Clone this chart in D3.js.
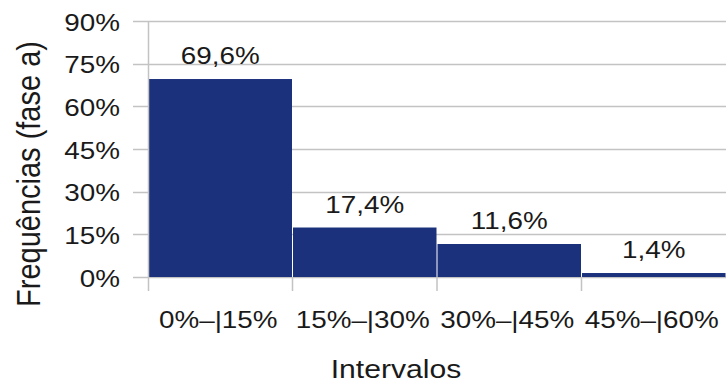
<!DOCTYPE html>
<html>
<head>
<meta charset="utf-8">
<script src="https://cdnjs.cloudflare.com/ajax/libs/d3/7.8.5/d3.min.js"></script>
<style>
  body { margin: 0; background: #fff; }
  text { font-family: "Liberation Sans", Arial, sans-serif; fill: #1a1a1a; }
</style>
</head>
<body>
<div id="chart"></div>
<script>
// histogram data
const categories = ["0%–|15%", "15%–|30%", "30%–|45%", "45%–|60%"];
const values = [69.6, 17.4, 11.6, 1.4];
const valueLabels = ["69,6%", "17,4%", "11,6%", "1,4%"];
const yTicks = [0, 15, 30, 45, 60, 75, 90];

const width = 726, height = 385;
const sx = 1.16; // text is drawn a little wide in the reference
const barColor = '#1c317c',
    gridColor = '#c3c3c3';

const svg = d3.select('#chart').append('svg')
    .attr('width', width)
    .attr('height', height);

const x = d3.scaleBand()
    .domain(categories)
    .range([148, 726])
    .padding(0);

const y = d3.scaleLinear()
    .domain([0, 90])
    .range([277, 21]);

// horizontal grid lines + left ticks
svg.append('g').selectAll('line')
    .data(yTicks)
    .enter().append('line')
    .attr('x1', 133)
    .attr('x2', width)
    .attr('y1', d => Math.round(y(d)) + 0.5)
    .attr('y2', d => Math.round(y(d)) + 0.5)
    .attr('stroke', gridColor)
    .attr('stroke-width', 1.5);

// y labels
svg.append('g').selectAll('text')
    .data(yTicks)
    .enter().append('text')
    .attr('transform', d => 'translate(120,' + (y(d) + 9.5) + ') scale(' + sx + ',1)')
    .attr('text-anchor', 'end')
    .attr('font-size', 24)
    .text(d => d + '%');

// bars
svg.append('g').selectAll('rect')
    .data(values)
    .enter().append('rect')
    .attr('x', (d, i) => x(categories[i]) + 0.5)
    .attr('width', x.bandwidth() - 1)
    .attr('y', d => y(d))
    .attr('height', d => y(0) - y(d))
    .attr('fill', barColor);

// left axis line and bottom ticks
svg.append('line')
    .attr('x1', 148.5).attr('x2', 148.5)
    .attr('y1', y(90)).attr('y2', 291)
    .attr('stroke', gridColor).attr('stroke-width', 1.5);

svg.append('g').selectAll('line')
    .data(categories.slice(1))
    .enter().append('line')
    .attr('x1', d => x(d))
    .attr('x2', d => x(d))
    .attr('y1', y(0))
    .attr('y2', 291)
    .attr('stroke', gridColor)
    .attr('stroke-width', 1.5);

// value labels
svg.append('g').selectAll('text')
    .data(values)
    .enter().append('text')
    .attr('transform', (d, i) => 'translate(' + (x(categories[i]) + x.bandwidth() / 2) + ',' + (y(d) - 15) + ') scale(' + sx + ',1)')
    .attr('text-anchor', 'middle')
    .attr('font-size', 24)
    .text((d, i) => valueLabels[i]);

// x labels
svg.append('g').selectAll('text')
    .data(categories)
    .enter().append('text')
    .attr('transform', d => 'translate(' + (x(d) + x.bandwidth() / 2 - 2) + ',328) scale(' + sx + ',1)')
    .attr('text-anchor', 'middle')
    .attr('font-size', 24)
    .text(d => d);

// axis titles
svg.append('text')
    .attr('transform', 'translate(396,378) scale(' + sx + ',1)')
    .attr('text-anchor', 'middle')
    .attr('font-size', 26)
    .text('Intervalos');

svg.append('text')
    .attr('transform', 'translate(40,174) scale(' + sx + ',1) rotate(-90)')
    .attr('text-anchor', 'middle')
    .attr('font-size', 29)
    .text('Frequências (fase a)');
</script>
</body>
</html>
